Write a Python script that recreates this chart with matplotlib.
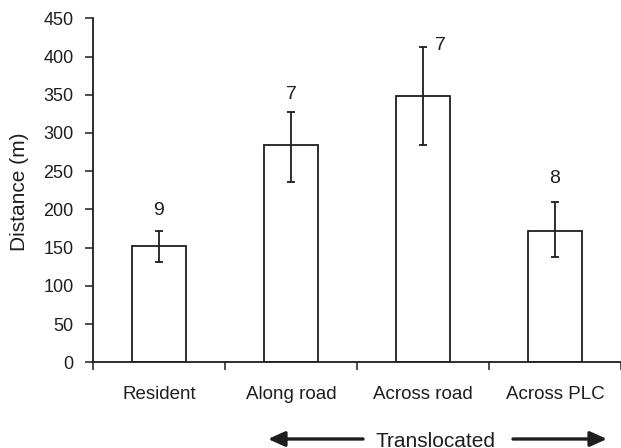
import matplotlib
matplotlib.use("Agg")
import matplotlib.pyplot as plt
from matplotlib.patches import FancyArrowPatch

plt.rcParams['font.family'] = ['Liberation Sans', 'DejaVu Sans']

categories = ["Resident", "Along road", "Across road", "Across PLC"]
means = [152, 284, 348, 172]
err_low = [131, 236, 284, 138]
err_high = [172, 328, 412, 210]
sample_sizes = ["9", "7", "7", "8"]
y_ticks = [0, 50, 100, 150, 200, 250, 300, 350, 400, 450]

ink = "#1e1e1e"
fig = plt.figure(figsize=(6.21, 4.48), dpi=100)
ax = fig.add_axes([93 / 621, 85.7 / 448, 528 / 621, 344 / 448])

x = list(range(len(categories)))
yerr = [[m - lo for m, lo in zip(means, err_low)],
        [hi - m for m, hi in zip(means, err_high)]]
ax.bar(x, means, width=0.41, color="white", edgecolor=ink, linewidth=1.3, zorder=2)
ax.errorbar(x, means, yerr=yerr, fmt="none", ecolor=ink, elinewidth=1.3,
            capsize=3, capthick=1.3, zorder=3)

# sample sizes above the error bars
label_pos = [(0, 199), (1, 350), (2.13, 414), (3, 241)]
for (px, py), n in zip(label_pos, sample_sizes):
    ax.text(px, py, n, ha="center", va="center", fontsize=14, color=ink)

ax.set_xlim(-0.5, 3.477)
ax.set_ylim(0, 450)
ax.set_yticks(y_ticks)
ax.set_xticks([-0.5, 0.5, 1.5, 2.5, 3.5])
ax.set_xticklabels([])
ax.tick_params(axis="x", direction="out", length=6, width=1.1, color=ink)
ax.tick_params(axis="y", direction="out", length=6, width=1.1, color=ink,
               labelsize=13, labelcolor=ink, pad=8)
for i, c in enumerate(categories):
    ax.text(i, -42, c, ha="center", va="center", fontsize=13.5, color=ink)

for s in ["top", "right"]:
    ax.spines[s].set_visible(False)
for s in ["left", "bottom"]:
    ax.spines[s].set_linewidth(1.3)
    ax.spines[s].set_color(ink)

fig.text(20 / 621, 1 - 192 / 448, "Distance (m)", rotation=90, ha="center",
         va="center", fontsize=15, color=ink)

# "Translocated" bracket with arrows under the three translocation groups
arrow_y = 1 - 439 / 448
fig.text(436 / 621, 1 - 441 / 448, "Translocated", ha="center", va="center",
         fontsize=15, color=ink)
for start, end in [(363, 268), (513, 607)]:
    fig.patches.append(FancyArrowPatch(
        (start / 621, arrow_y), (end / 621, arrow_y), transform=fig.transFigure,
        arrowstyle="-|>,head_length=10,head_width=4.5", lw=2.4, color=ink,
        mutation_scale=1, shrinkA=0, shrinkB=0))

fig.savefig("out.png", dpi=100)
